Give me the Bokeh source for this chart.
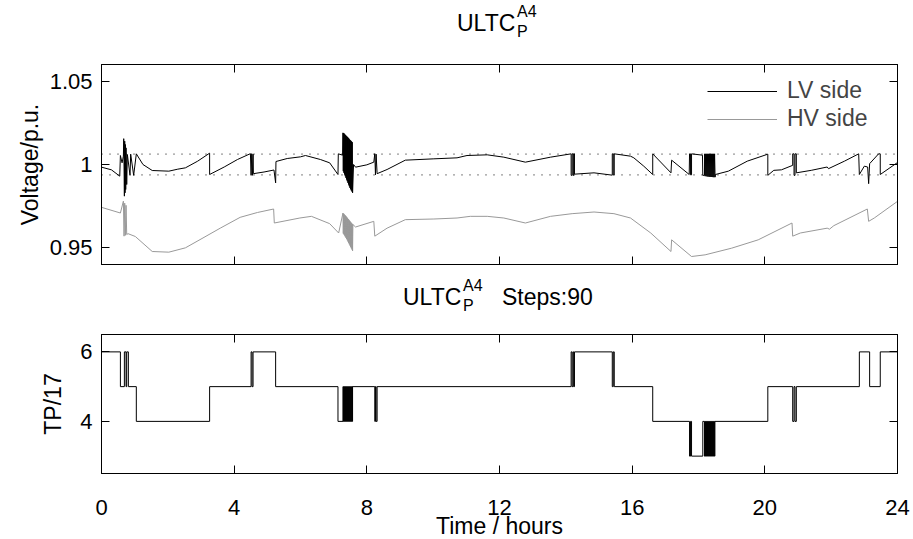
from bokeh.plotting import figure
from bokeh.models import (Range1d, LinearAxis, FixedTicker, CustomJSTickFormatter,
                          Span, Div)
from bokeh.layouts import column
from bokeh.embed import file_html
from bokeh.resources import INLINE

FONT = "Liberation Sans"
FS_TICK = "22px"
FS_LAB = "23px"

# ---------------- data ----------------
x_ticks = [0, 4, 8, 12, 16, 20, 24]
v_ticks = [0.95, 1.0, 1.05]
tp_ticks = [4, 6]
band_upper = 1.00625
band_lower = 0.99375

# LV side voltage (time h, p.u.)
lv_points = [
    (0.00, 0.9984), (0.30, 0.9968), (0.55, 0.9930), (0.57, 1.0054), (0.62, 1.0010),
    (0.66, 1.0050), (0.67, 1.0155), (0.69, 0.9810), (0.70, 1.0140), (0.71, 0.9830),
    (0.72, 1.0120), (0.73, 0.9850), (0.74, 1.0100), (0.76, 0.9880), (0.78, 1.0060),
    (0.86, 0.9935), (0.88, 1.0062), (0.97, 0.9935), (1.05, 1.0064), (1.25, 1.0000),
    (1.53, 0.9964), (2.03, 0.9960), (2.30, 0.9972), (2.53, 0.9980), (2.90, 1.0020),
    (3.26, 1.0068), (3.26, 0.9940), (3.70, 0.9985), (4.10, 1.0030), (4.49, 1.0065),
    (4.51, 0.9935), (4.53, 1.0065), (4.55, 0.9935), (4.57, 1.0062), (4.58, 0.9945),
    (4.90, 0.9955), (5.20, 0.9967), (5.25, 0.9890), (5.26, 1.0018), (5.60, 1.0036),
    (6.00, 1.0046), (6.15, 1.0054), (6.60, 1.0030), (6.88, 1.0010), (7.13, 0.9940),
    (7.14, 1.0064), (7.27, 1.0056), (7.28, 1.0190), (7.29, 0.9960), (7.30, 1.0188),
    (7.31, 0.9950), (7.32, 1.0185), (7.33, 0.9940), (7.34, 1.0180), (7.35, 0.9930),
    (7.36, 1.0176), (7.37, 0.9920), (7.38, 1.0172), (7.39, 0.9910), (7.40, 1.0168),
    (7.41, 0.9900), (7.42, 1.0164), (7.43, 0.9890), (7.44, 1.0160), (7.45, 0.9880),
    (7.46, 1.0155), (7.47, 0.9870), (7.48, 1.0150), (7.49, 0.9860), (7.50, 1.0146),
    (7.51, 0.9852), (7.52, 1.0142), (7.53, 0.9845), (7.54, 1.0138), (7.55, 0.9838),
    (7.56, 1.0134), (7.57, 0.9830), (7.60, 1.0000), (7.66, 0.9984), (8.00, 0.9998),
    (8.21, 1.0014), (8.24, 1.0065), (8.26, 0.9938), (8.28, 1.0062), (8.31, 0.9945),
    (8.61, 0.9970), (9.16, 1.0026), (10.02, 1.0034), (10.72, 1.0040), (11.02, 1.0054),
    (11.63, 1.0058), (12.13, 1.0044), (12.78, 1.0014), (13.54, 1.0044), (14.16, 1.0064),
    (14.16, 0.9935), (14.19, 0.9935), (14.19, 1.0064), (14.22, 1.0064), (14.22, 0.9935),
    (14.24, 0.9935), (14.24, 1.0064), (14.26, 1.0064), (14.26, 0.9942), (14.85, 0.9950),
    (15.40, 0.9936), (15.40, 1.0064), (15.43, 1.0064), (15.43, 0.9938), (15.46, 0.9938),
    (15.46, 1.0064), (15.95, 1.0050), (16.05, 1.0040), (16.35, 0.9990), (16.62, 0.9940),
    (16.62, 1.0064), (17.17, 0.9950), (17.19, 1.0026), (17.72, 0.9940), (17.73, 1.0064),
    (17.76, 1.0064), (17.76, 0.9938), (17.79, 0.9938), (17.79, 1.0064), (18.12, 1.0056),
    (18.13, 0.9935), (18.18, 0.9935), (18.185, 1.0064), (18.20, 0.9930), (18.215, 1.0064),
    (18.23, 0.9930), (18.245, 1.0064), (18.26, 0.9928), (18.275, 1.0064), (18.29, 0.9928),
    (18.305, 1.0064), (18.32, 0.9926), (18.335, 1.0064), (18.35, 0.9926), (18.365, 1.0064),
    (18.38, 0.9925), (18.395, 1.0064), (18.41, 0.9925), (18.425, 1.0064), (18.44, 0.9924),
    (18.455, 1.0064), (18.47, 0.9924), (18.485, 1.0064), (18.50, 0.9924), (18.51, 0.9940),
    (18.90, 0.9960), (19.47, 1.0020), (20.09, 1.0062), (20.09, 0.9935), (20.27, 0.9965),
    (20.50, 0.9968), (20.84, 0.9995), (20.84, 1.0064), (20.88, 1.0064), (20.88, 0.9935),
    (20.91, 0.9935), (20.91, 1.0064), (20.95, 1.0064), (20.95, 0.9950), (21.40, 0.9965),
    (21.88, 0.9985), (21.92, 0.9975), (22.40, 1.0020), (22.83, 1.0064), (22.85, 0.9940),
    (23.00, 0.9990), (23.10, 0.9985), (23.13, 0.9885), (23.16, 1.0005), (23.43, 1.0064),
    (23.48, 1.0064), (23.48, 0.9940), (24.00, 1.0012),
]

# HV side voltage (time h, p.u.)
hv_points = [
    (0.00, 0.9743), (0.57, 0.9709), (0.66, 0.9780), (0.68, 0.9570), (0.70, 0.9768),
    (0.72, 0.9575), (0.74, 0.9755), (0.76, 0.9580), (0.80, 0.9585), (1.02, 0.9568),
    (1.53, 0.9478), (2.03, 0.9474), (2.53, 0.9500), (3.03, 0.9556), (3.58, 0.9618),
    (4.18, 0.9683), (4.70, 0.9712), (5.19, 0.9733), (5.21, 0.9649), (5.98, 0.9679),
    (6.33, 0.9689), (6.88, 0.9645), (7.15, 0.9589), (7.28, 0.9709), (7.29, 0.9586),
    (7.30, 0.9705), (7.31, 0.9580), (7.32, 0.9701), (7.33, 0.9574), (7.34, 0.9697),
    (7.35, 0.9567), (7.36, 0.9692), (7.37, 0.9560), (7.38, 0.9688), (7.39, 0.9553),
    (7.40, 0.9683), (7.41, 0.9546), (7.42, 0.9678), (7.43, 0.9538), (7.44, 0.9673),
    (7.45, 0.9530), (7.46, 0.9668), (7.47, 0.9522), (7.48, 0.9663), (7.49, 0.9514),
    (7.50, 0.9658), (7.51, 0.9506), (7.52, 0.9653), (7.53, 0.9498), (7.54, 0.9648),
    (7.55, 0.9490), (7.56, 0.9644), (7.57, 0.9482), (7.58, 0.9640), (7.66, 0.9625),
    (8.21, 0.9659), (8.24, 0.9570), (8.61, 0.9618), (9.16, 0.9669), (10.02, 0.9673),
    (10.72, 0.9679), (11.12, 0.9689), (11.63, 0.9689), (12.13, 0.9679), (12.78, 0.9649),
    (13.54, 0.9689), (14.19, 0.9705), (14.85, 0.9715), (15.45, 0.9705), (15.95, 0.9679),
    (16.56, 0.9589), (17.17, 0.9478), (17.19, 0.9548), (17.79, 0.9448), (18.20, 0.9458),
    (19.00, 0.9498), (19.80, 0.9548), (20.82, 0.9649), (20.84, 0.9570), (21.07, 0.9589),
    (21.88, 0.9618), (21.95, 0.9612), (22.08, 0.9633), (23.09, 0.9733), (23.13, 0.9659),
    (23.30, 0.9679), (24.00, 0.9779),
]

# Tap position: switching instants (h) and new tap value
tp_t = [0, 0.57, 0.69, 0.74, 0.76, 0.81,
        1.05, 3.26,
        4.51, 4.54, 4.57,
        5.25,
        7.13,
        7.28, 7.295, 7.31, 7.325, 7.34, 7.355, 7.37, 7.385, 7.40, 7.415,
        7.43, 7.445, 7.46, 7.475, 7.49, 7.505, 7.52, 7.535, 7.55, 7.565, 7.57,
        8.24, 8.26, 8.28, 8.31,
        14.16, 14.19, 14.22, 14.24, 14.26,
        15.40, 15.43, 15.46,
        16.62,
        17.73, 17.76, 17.79,
        18.13, 18.18, 18.195, 18.21, 18.225, 18.24, 18.255, 18.27, 18.285, 18.30,
        18.315, 18.33, 18.345, 18.36, 18.375, 18.39, 18.405, 18.42, 18.435, 18.45,
        18.465, 18.48, 18.495,
        20.09,
        20.84, 20.88, 20.91, 20.95,
        22.85, 23.16, 23.48,
        24]
tp_v = [6, 5, 6, 5, 6, 5,
        4, 5,
        6, 5, 6,
        5,
        4,
        5, 4, 5, 4, 5, 4, 5, 4, 5, 4,
        5, 4, 5, 4, 5, 4, 5, 4, 5, 4, 5,
        4, 5, 4, 5,
        6, 5, 6, 5, 6,
        5, 6, 5,
        4,
        3, 4, 3,
        4, 3, 4, 3, 4, 3, 4, 3, 4, 3,
        4, 3, 4, 3, 4, 3, 4, 3, 4, 3,
        4, 3, 4,
        5,
        4, 5, 4, 5,
        6, 5, 6,
        6]

legend_labels = ["LV side", "HV side"]
title_main = "ULTC"
title_sub = "P"
title_sup = "A4"
steps_text = "Steps:90"
x_label = "Time / hours"
y_label_top = "Voltage/p.u."
y_label_bottom = "TP/17"

lv_t = [p[0] for p in lv_points]
lv_v = [p[1] for p in lv_points]
hv_t = [p[0] for p in hv_points]
hv_v = [p[1] for p in hv_points]

W = 913
H = 539
empty_fmt = CustomJSTickFormatter(code="return ''")


def style_axis(ax, ticks, show_labels=True):
    ax.ticker = FixedTicker(ticks=ticks)
    ax.major_tick_in = 8
    ax.major_tick_out = 0
    ax.minor_tick_line_color = None
    ax.axis_line_color = "black"
    ax.major_tick_line_color = "black"
    ax.major_label_text_font = FONT
    ax.major_label_text_font_size = FS_TICK
    ax.major_label_text_color = "black"
    ax.axis_label_text_font = FONT
    ax.axis_label_text_font_size = FS_LAB
    ax.axis_label_text_font_style = "normal"
    ax.axis_label_text_color = "black"
    if not show_labels:
        ax.formatter = empty_fmt
        ax.major_label_standoff = 0
        ax.major_label_text_font_size = "1px"


def base_fig(height, yr, top, bottom):
    p = figure(width=W, height=height, x_range=Range1d(0, 24), y_range=yr,
               output_backend="svg", toolbar_location=None,
               min_border_left=101, min_border_right=W - 897,
               min_border_top=top, min_border_bottom=bottom)
    p.xgrid.visible = False
    p.ygrid.visible = False
    p.outline_line_color = "black"
    p.outline_line_alpha = 1.0
    p.background_fill_color = "white"
    p.border_fill_color = "white"
    return p


def span_html(text, left, top, size):
    return (f'<span style="position:absolute;left:{left}px;top:{top}px;'
            f'font-size:{size}px;line-height:1;white-space:nowrap;">{text}</span>')


def title_div(height, left_main, left_script, top_main, steps_left=None):
    parts = [span_html(title_main, left_main, top_main, 23),
             span_html(title_sup, left_script, top_main - 8, 16),
             span_html(title_sub, left_script, top_main + 12, 16)]
    if steps_left is not None:
        parts.append(span_html(steps_text, steps_left, top_main, 23))
    html = (f'<div style="position:relative;width:{W}px;height:{height}px;'
            f'font-family:\'{FONT}\',sans-serif;color:black;">' + "".join(parts) + '</div>')
    return Div(text=html, width=W, height=height, margin=0)


# ---------------- top plot ----------------
div1 = title_div(56, 457, 517, 12)

p1 = base_fig(216, Range1d(0.94, 1.06), 8, 8)
style_axis(p1.xaxis[0], x_ticks, show_labels=False)
style_axis(p1.yaxis[0], v_ticks)
p1.yaxis[0].formatter = CustomJSTickFormatter(
    code="return (Math.round(tick*100)/100).toString()")
p1.yaxis[0].axis_label = y_label_top
p1.yaxis[0].major_label_standoff = 9
p1.yaxis[0].axis_label_standoff = 4
ax_top = LinearAxis()
style_axis(ax_top, x_ticks, show_labels=False)
p1.add_layout(ax_top, "above")
ax_right = LinearAxis()
style_axis(ax_right, v_ticks, show_labels=False)
p1.add_layout(ax_right, "right")

for loc in (band_upper, band_lower):
    p1.add_layout(Span(location=loc, dimension="width", line_color="black",
                       line_width=1, line_dash="1 7"))

p1.line(lv_t, lv_v, line_color="black", line_width=1, line_join="bevel",
        legend_label=legend_labels[0])
p1.line(hv_t, hv_v, line_color="#999999", line_width=1, line_join="bevel",
        legend_label=legend_labels[1])

lg = p1.legend[0]
lg.location = "top_right"
lg.border_line_color = None
lg.background_fill_alpha = 0
lg.label_text_font = FONT
lg.label_text_font_size = FS_LAB
lg.glyph_width = 70
lg.glyph_height = 20
lg.label_height = 20
lg.label_width = 97
lg.label_standoff = 10
lg.spacing = 1
lg.padding = 8
lg.margin = 13

# ---------------- bottom plot ----------------
div2 = title_div(54, 403, 463, 14, steps_left=502)

p2 = base_fig(219, Range1d(2.5, 6.5), 8, 72)
style_axis(p2.xaxis[0], x_ticks)
p2.xaxis[0].axis_label = x_label
p2.xaxis[0].major_label_standoff = 26
p2.xaxis[0].axis_label_standoff = -5
style_axis(p2.yaxis[0], tp_ticks)
p2.yaxis[0].axis_label = y_label_bottom
p2.yaxis[0].major_label_standoff = 9
p2.yaxis[0].axis_label_standoff = 11
ax_top2 = LinearAxis()
style_axis(ax_top2, x_ticks, show_labels=False)
p2.add_layout(ax_top2, "above")
ax_right2 = LinearAxis()
style_axis(ax_right2, tp_ticks, show_labels=False)
p2.add_layout(ax_right2, "right")

p2.step(tp_t, tp_v, mode="after", line_color="black", line_width=1)

layout = column(div1, p1, div2, p2, spacing=0, width=W, height=H,
                styles={"overflow": "hidden"})
open("out.html", "w").write(file_html(layout, INLINE))
